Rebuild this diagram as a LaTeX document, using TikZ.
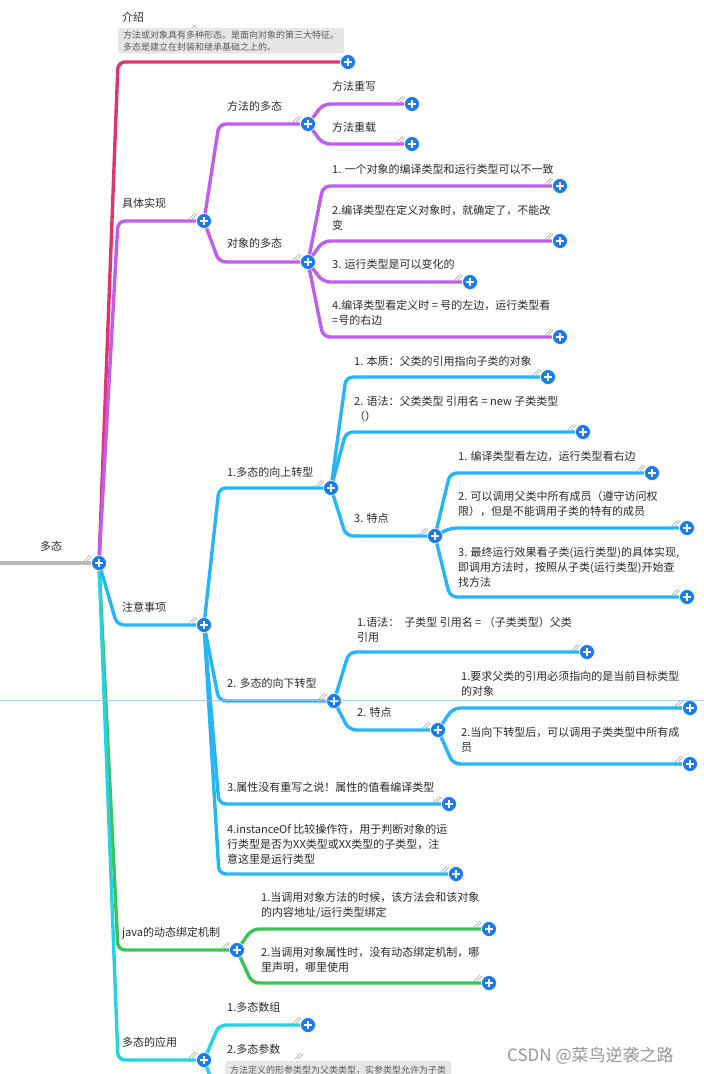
\documentclass[tikz,border=0pt]{standalone}
\usepackage{fontspec}
\setmainfont{Noto Sans CJK SC}
\usetikzlibrary{calc,backgrounds}
\definecolor{cRed}{RGB}{226,52,108}
\definecolor{cPur}{RGB}{192,92,240}
\definecolor{cBlu}{RGB}{38,182,248}
\definecolor{cGrn}{RGB}{58,196,88}
\definecolor{cCya}{RGB}{36,210,226}
\definecolor{cRoot}{RGB}{184,184,184}
\definecolor{cPlus}{RGB}{26,122,240}
\definecolor{cNote}{RGB}{230,230,230}
\definecolor{cNoteTxt}{RGB}{90,90,90}
\definecolor{cTxt}{RGB}{40,40,40}
\definecolor{cGuide}{RGB}{150,195,245}
\definecolor{cWm}{RGB}{150,150,150}
\definecolor{cHdl}{RGB}{160,160,160}
\newcommand\conn[4][15]{\draw[edge,draw=#2] (#3.center) -- ($(#3.center |- #4)+(#1,0)$) -- (#4);}
\newcommand\hdl[1]{\draw[hdlst] ($(#1)+(-15,-2)$) -- ++(6,-6) ($(#1)+(-12,-2)$) -- ++(5,-5);}
\begin{document}
\begin{tikzpicture}[x=1pt,y=-1pt,
  plusnode/.style={circle, fill=cPlus, draw=white, line width=0.6pt, minimum size=15pt, inner sep=0pt,
    path picture={\draw[white,line width=1.8pt] ([xshift=-4.2pt]path picture bounding box.center) -- ([xshift=4.2pt]path picture bounding box.center)
      ([yshift=-4.2pt]path picture bounding box.center) -- ([yshift=4.2pt]path picture bounding box.center);}},
  lbl/.style={font=\fontsize{11}{15}\selectfont, text=cTxt, inner sep=0pt, anchor=north west, align=left},
  notebox/.style={fill=cNote, rounded corners=2pt, font=\fontsize{9}{12}\selectfont, text=cNoteTxt, inner xsep=5pt, inner ysep=2.5pt, anchor=north west, align=left},
  edge/.style={line width=3.4pt, rounded corners=7pt},
  hdlst/.style={draw=cHdl, line width=0.5pt}]
\useasboundingbox (0,0) rectangle (704,1074);
\clip (0,0) rectangle (704,1074);

% ---------- plus nodes ----------
\node[plusnode] (p0) at (99,563) {};
\node[plusnode] (pA) at (348,62) {};
\node[plusnode] (pB) at (204,221) {};
\node[plusnode] (pB1) at (308,124) {};
\node[plusnode] (pB11) at (412,104) {};
\node[plusnode] (pB12) at (412,144) {};
\node[plusnode] (pB2) at (308,262) {};
\node[plusnode] (pB21) at (560,186) {};
\node[plusnode] (pB22) at (560,241) {};
\node[plusnode] (pB23) at (470,282) {};
\node[plusnode] (pB24) at (560,337) {};
\node[plusnode] (pC) at (204,625) {};
\node[plusnode] (pC1) at (331,488) {};
\node[plusnode] (pC11) at (548,377) {};
\node[plusnode] (pC12) at (583,432) {};
\node[plusnode] (pC13) at (435,536) {};
\node[plusnode] (pC131) at (652,473) {};
\node[plusnode] (pC132) at (687,528) {};
\node[plusnode] (pC133) at (687,597) {};
\node[plusnode] (pC2) at (334,701) {};
\node[plusnode] (pC21) at (587,652) {};
\node[plusnode] (pC22) at (438,730) {};
\node[plusnode] (pC221) at (690,708) {};
\node[plusnode] (pC222) at (690,764) {};
\node[plusnode] (pC3) at (449,804) {};
\node[plusnode] (pC4) at (456,874) {};
\node[plusnode] (pD) at (237,950) {};
\node[plusnode] (pD1) at (489,929) {};
\node[plusnode] (pD2) at (489,983) {};
\node[plusnode] (pE) at (204,1060) {};
\node[plusnode] (pE1) at (308,1025) {};
\coordinate (pE2) at (330,1100);
\coordinate (rootL) at (0,563);

% ---------- connectors ----------
\begin{scope}[on background layer]
\draw[edge,draw=cRoot] (rootL) -- (p0);
\conn[19]{cRed}{p0}{pA}
\conn[19]{cPur}{p0}{pB}
\conn{cPur}{pB}{pB1}
\conn{cPur}{pB}{pB2}
\conn{cPur}{pB1}{pB11}
\conn{cPur}{pB1}{pB12}
\conn{cPur}{pB2}{pB21}
\conn{cPur}{pB2}{pB22}
\conn{cPur}{pB2}{pB23}
\conn{cPur}{pB2}{pB24}
\conn[19]{cGrn}{p0}{pD}
\conn[19]{cCya}{p0}{pE}
\conn[18]{cBlu}{p0}{pC}
\conn{cBlu}{pC}{pC1}
\conn{cBlu}{pC}{pC2}
\conn{cBlu}{pC}{pC3}
\conn{cBlu}{pC}{pC4}
\conn{cBlu}{pC1}{pC11}
\conn{cBlu}{pC1}{pC12}
\conn{cBlu}{pC1}{pC13}
\conn{cBlu}{pC13}{pC131}
\conn{cBlu}{pC13}{pC132}
\conn{cBlu}{pC13}{pC133}
\conn{cBlu}{pC2}{pC21}
\conn{cBlu}{pC2}{pC22}
\conn{cBlu}{pC22}{pC221}
\conn{cBlu}{pC22}{pC222}
\conn{cGrn}{pD}{pD1}
\conn{cGrn}{pD}{pD2}
\conn{cCya}{pE}{pE1}
\conn{cCya}{pE}{pE2}
\end{scope}

% ---------- handles ----------
\foreach \n in {p0,pB,pB1,pB11,pB12,pB2,pB21,pB22,pB23,pB24,pC,pC1,pC11,pC12,pC13,pC131,pC132,pC133,pC2,pC21,pC22,pC221,pC222,pC3,pC4,pD,pD1,pD2,pE,pE1}{\hdl{\n}}
\coordinate (hA) at (204,33);
\coordinate (hE2) at (310,1061);
\hdl{hA}
\hdl{hE2}

% ---------- labels ----------
\node[lbl] (t0) at (40,541) {多态};
\node[lbl] (tA) at (122,12) {介绍};
\node[notebox] (nA) at (118,28) {方法或对象具有多种形态。是面向对象的第三大特征。\\多态是建立在封装和继承基础之上的。};
\node[lbl] (tB) at (122,198) {具体实现};
\node[lbl] (tB1) at (227,101) {方法的多态};
\node[lbl] (tB11) at (332,81) {方法重写};
\node[lbl] (tB12) at (332,122) {方法重载};
\node[lbl] (tB2) at (227,238) {对象的多态};
\node[lbl] (tB21) at (332,164) {1. 一个对象的编译类型和运行类型可以不一致};
\node[lbl] (tB22) at (332,205) {2.编译类型在定义对象时，就确定了，不能改\\变};
\node[lbl] (tB23) at (332,259) {3. 运行类型是可以变化的};
\node[lbl] (tB24) at (332,300) {4.编译类型看定义时 = 号的左边，运行类型看\\=号的右边};
\node[lbl] (tC) at (122,602) {注意事项};
\node[lbl] (tC1) at (227,467) {1.多态的向上转型};
\node[lbl] (tC11) at (354,356) {1. 本质：父类的引用指向子类的对象};
\node[lbl] (tC12) at (354,396) {2. 语法：父类类型 引用名 = new 子类类型\\（）};
\node[lbl] (tC13) at (354,513) {3. 特点};
\node[lbl] (tC131) at (458,451) {1. 编译类型看左边，运行类型看右边};
\node[lbl] (tC132) at (458,491) {2. 可以调用父类中所有成员（遵守访问权\\限），但是不能调用子类的特有的成员};
\node[lbl] (tC133) at (458,547) {3. 最终运行效果看子类(运行类型)的具体实现,\\即调用方法时，按照从子类(运行类型)开始查\\找方法};
\node[lbl] (tC2) at (227,678) {2. 多态的向下转型};
\node[lbl] (tC21) at (357,617) {1.语法：\ \ 子类型 引用名 = （子类类型）父类\\引用};
\node[lbl] (tC22) at (357,707) {2. 特点};
\node[lbl] (tC221) at (461,671) {1.要求父类的引用必须指向的是当前目标类型\\的对象};
\node[lbl] (tC222) at (461,727) {2.当向下转型后，可以调用子类类型中所有成\\员};
\node[lbl] (tC3) at (227,782) {3.属性没有重写之说！属性的值看编译类型};
\node[lbl] (tC4) at (227,824) {4.instanceOf 比较操作符，用于判断对象的运\\行类型是否为XX类型或XX类型的子类型，注\\意这里是运行类型};
\node[lbl] (tD) at (122,927) {java的动态绑定机制};
\node[lbl] (tD1) at (261,892) {1.当调用对象方法的时候，该方法会和该对象\\的内容地址/运行类型绑定};
\node[lbl] (tD2) at (261,947) {2.当调用对象属性时，没有动态绑定机制，哪\\里声明，哪里使用};
\node[lbl] (tE) at (122,1037) {多态的应用};
\node[lbl] (tE1) at (227,1002) {1.多态数组};
\node[lbl] (tE2) at (227,1044) {2.多态参数};
\node[notebox, minimum height=30pt, text depth=14pt] (nE2) at (225,1061) {方法定义的形参类型为父类类型，实参类型允许为子类};

% ---------- guide line and watermark ----------
\coordinate (gl) at (0,700);
\coordinate (gr) at (704,700);
\draw[cGuide, line width=0.8pt, opacity=0.8] (gl) -- (gr);
\node[font=\fontsize{17}{18}\selectfont, text=cWm, anchor=west, inner sep=0pt] (wm) at (507,1056) {CSDN @菜鸟逆袭之路};
\end{tikzpicture}
\end{document}
